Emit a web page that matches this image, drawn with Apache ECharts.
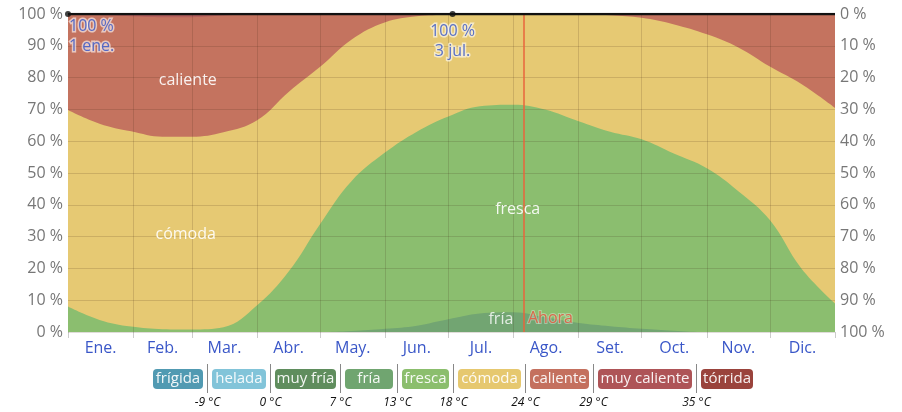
<!DOCTYPE html>
<html>
<head>
<meta charset="utf-8">
<script src="https://cdn.jsdelivr.net/npm/echarts@6/dist/echarts.min.js"></script>
<style>
  html, body { margin: 0; padding: 0; background: #fff; }
  #chart { width: 902px; height: 412px; }
</style>
</head>
<body>
<div id="chart"></div>
<script>
// dia del año de cada punto
const days = [0, 15, 30, 45, 59, 74, 90, 105, 120, 135, 151, 166, 181, 196, 212, 227, 243, 258, 273, 288, 304, 319, 334, 349, 365]

// porcentaje de horas en cada banda (de abajo hacia arriba)
const fria = [0, 0, 0, 0, 0, 0, 0, 0, 0, 0.3, 1.0, 2.0, 4.0, 5.8, 6.2, 4.6, 2.8, 1.8, 1.0, 0.4, 0, 0, 0, 0, 0]
const fresca = [8.0, 3.8, 1.7, 0.9, 0.8, 1.5, 8.4, 19.0, 34.0, 47.2, 55.5, 61.0, 63.8, 65.2, 65.3, 65.4, 63.5, 61.2, 59.6, 55.8, 51.5, 44.3, 35.2, 20.0, 9.0]
const comoda = [61.8, 61.7, 61.4, 60.5, 60.6, 61.3, 58.2, 56.5, 49.4, 44.5, 40.9, 36.3, 32.0, 29.0, 28.5, 30.0, 33.7, 36.6, 38.2, 40.6, 42.1, 45.2, 48.3, 58.0, 61.5]
const caliente = [30.0, 34.2, 36.2, 37.6, 37.6, 36.7, 33.4, 24.5, 16.6, 8.0, 2.6, 0.7, 0.2, 0, 0, 0, 0, 0.4, 1.2, 3.2, 6.4, 10.5, 16.5, 22.0, 29.5]
const muyCaliente = [0, 0.3, 0.7, 1.0, 1.0, 0.5, 0, 0, 0, 0, 0, 0, 0, 0, 0, 0, 0, 0, 0, 0, 0, 0, 0, 0, 0]

const monthStarts = [0, 31, 59, 90, 120, 151, 181, 212, 243, 273, 304, 334, 365]
const monthNames = ['Ene.', 'Feb.', 'Mar.', 'Abr.', 'May.', 'Jun.', 'Jul.', 'Ago.', 'Set.', 'Oct.', 'Nov.', 'Dic.']

const maxPoints = [[0, 100, '100 %\n1 ene.'], [183, 100, '100 %\n3 jul.']]
const nowDay = 217

const bands = ['frígida', 'helada', 'muy fría', 'fría', 'fresca', 'cómoda', 'caliente', 'muy caliente', 'tórrida']
const bandColors = ['#519ab2', '#82c4d9', '#5f8d5d', '#70a570', '#8bbe6d', '#e6c86f', '#c4705e', '#ae5457', '#9a433c']
const bandLimits = ['-9 °C', '0 °C', '7 °C', '13 °C', '18 °C', '24 °C', '29 °C', '35 °C']

const areaColors = {
  fria: '#72a572',
  fresca: '#8bbe6f',
  comoda: '#e6c973',
  caliente: '#c4735f',
  muyCaliente: '#b6605d'
}

const FONT = '"Open Sans", "Noto Sans", sans-serif'

const chart = echarts.init(document.getElementById('chart'))

// acumulado de las bandas, dibujado de arriba hacia abajo
const layers = [fria, fresca, comoda, caliente, muyCaliente]
const cumulative = layers.map((arr, k) =>
  days.map((d, i) => [d, layers.slice(0, k + 1).reduce((s, a) => s + a[i], 0)])
)

const monthMids = monthNames.map((m, i) => (monthStarts[i] + monthStarts[i + 1]) / 2)

const areaSeries = (name, data, color, extra) => Object.assign({
  name: name,
  type: 'line',
  smooth: 0.4,
  symbol: 'none',
  lineStyle: { width: 0 },
  areaStyle: { color: color, opacity: 1 },
  itemStyle: { color: color },
  data: data,
  z: 2
}, extra || {})

const areaLabel = (text, coord, color) => ({
  symbol: 'circle',
  symbolSize: 0,
  silent: true,
  label: {
    show: true,
    position: 'inside',
    formatter: text,
    color: color,
    fontSize: 16,
    fontFamily: FONT
  },
  data: [{ coord: coord }]
})

// leyenda de bandas de temperatura
const legendGraphics = []
const boxW = [50, 54, 61, 48, 47, 63, 59, 94, 52]
let bx = 153
bands.forEach((b, i) => {
  legendGraphics.push({
    type: 'rect',
    shape: { x: bx, y: 369, width: boxW[i], height: 20, r: 4 },
    style: { fill: bandColors[i] }
  })
  legendGraphics.push({
    type: 'text',
    x: bx + boxW[i] / 2,
    y: 379,
    style: {
      text: b,
      fill: 'rgba(255,255,255,0.92)',
      font: '15px ' + FONT,
      align: 'center',
      verticalAlign: 'middle'
    }
  })
  if (i < bands.length - 1) {
    const sx = bx + boxW[i] + 4.5
    legendGraphics.push({
      type: 'line',
      shape: { x1: sx, y1: 364, x2: sx, y2: 393 },
      style: { stroke: '#888', lineWidth: 1 }
    })
    legendGraphics.push({
      type: 'text',
      x: sx,
      y: 403,
      style: {
        text: bandLimits[i],
        fill: '#111',
        font: 'italic 12px ' + FONT,
        align: 'center',
        verticalAlign: 'middle'
      }
    })
    bx = sx + 4.5
  }
})

const option = {
  animation: false,
  grid: { left: 68, right: 67, top: 14, bottom: 80 },
  xAxis: {
    type: 'value',
    min: 0,
    max: 365,
    axisLine: { show: false },
    splitLine: { show: false },
    axisTick: {
      show: true,
      customValues: monthStarts,
      length: 6,
      lineStyle: { color: '#ccc' }
    },
    axisLabel: {
      customValues: monthMids,
      formatter: v => monthNames[monthMids.indexOf(v)],
      color: '#3a57c8',
      fontSize: 16,
      fontFamily: FONT,
      margin: 8
    }
  },
  yAxis: [
    {
      type: 'value',
      min: 0,
      max: 100,
      interval: 10,
      z: 5,
      axisLine: { show: false },
      axisTick: { show: false },
      splitLine: { lineStyle: { color: 'rgba(60,40,20,0.16)', width: 1 } },
      axisLabel: { formatter: '{value} %', color: '#777', fontSize: 16, fontFamily: FONT, margin: 5 }
    },
    {
      type: 'value',
      min: 0,
      max: 100,
      interval: 10,
      inverse: true,
      position: 'right',
      axisLine: { show: false },
      axisTick: { show: false },
      splitLine: { show: false },
      axisLabel: { formatter: '{value} %', color: '#777', fontSize: 16, fontFamily: FONT, margin: 5 }
    }
  ],
  graphic: legendGraphics,
  series: [
    areaSeries('muy caliente', cumulative[4], areaColors.muyCaliente),
    areaSeries('caliente', cumulative[3], areaColors.caliente, {
      markPoint: areaLabel('caliente', [57, 79.2], 'rgba(255,255,255,0.9)')
    }),
    areaSeries('cómoda', cumulative[2], areaColors.comoda, {
      markPoint: areaLabel('cómoda', [56, 30.8], 'rgba(255,255,255,0.9)')
    }),
    areaSeries('fresca', cumulative[1], areaColors.fresca, {
      markPoint: areaLabel('fresca', [214, 38.4], 'rgba(255,255,255,0.9)')
    }),
    areaSeries('fría', cumulative[0], areaColors.fria, {
      markPoint: areaLabel('fría', [206, 4.1], 'rgba(255,255,255,0.8)'),
      markLine: {
        silent: true,
        symbol: 'none',
        label: { show: false },
        lineStyle: { color: 'rgba(60,40,20,0.16)', type: 'solid', width: 1 },
        data: monthStarts.slice(1, -1).map(d => ({ xAxis: d }))
      }
    }),
    {
      name: 'ahora',
      type: 'line',
      data: [],
      z: 6,
      markLine: {
        silent: true,
        symbol: 'none',
        label: { show: false },
        lineStyle: { color: '#e8643c', type: 'solid', width: 1.5 },
        data: [{ xAxis: nowDay }]
      },
      markPoint: {
        symbol: 'circle',
        symbolSize: 0,
        label: {
          show: true,
          position: 'right',
          distance: 4,
          formatter: 'Ahora',
          color: '#d9694c',
          fontSize: 16,
          fontFamily: FONT,
          textBorderColor: 'rgba(255,255,255,0.35)',
          textBorderWidth: 2
        },
        data: [{ coord: [nowDay, 4.2] }]
      }
    },
    {
      name: 'máximo',
      type: 'line',
      data: [[0, 100], [365, 100]],
      symbol: 'none',
      lineStyle: { color: '#111', width: 2.5 },
      z: 7
    },
    {
      name: 'puntos',
      type: 'scatter',
      data: [
        { value: maxPoints[0], label: { position: [4, 5], align: 'left' } },
        { value: maxPoints[1] }
      ],
      symbolSize: 6,
      itemStyle: { color: '#111' },
      z: 8,
      label: {
        show: true,
        formatter: p => p.value[2],
        color: '#3151c6',
        fontSize: 16,
        lineHeight: 20,
        fontFamily: FONT,
        textBorderColor: 'rgba(255,255,255,0.75)',
        textBorderWidth: 3,
        position: 'bottom',
        distance: 4,
        align: 'center'
      }
    }
  ]
}

chart.setOption(option)
</script>
</body>
</html>
